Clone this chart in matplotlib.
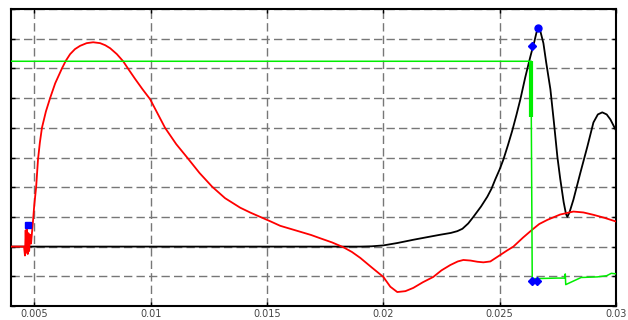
import numpy as np
import matplotlib
matplotlib.use("Agg")
import matplotlib.pyplot as plt

# black trace (flat at zero, then the two peaks on the right)
black_x = [0.0040, 0.01901, 0.01950, 0.02000, 0.02060, 0.02129, 0.02190, 0.02245,
           0.02290, 0.02318, 0.02340, 0.02365, 0.02387, 0.02420, 0.02447, 0.02465,
           0.02481, 0.02500, 0.02516, 0.02535, 0.02554, 0.02572, 0.02589, 0.02610,
           0.02632, 0.02649, 0.02658, 0.02666, 0.02675, 0.02688, 0.02700, 0.02718,
           0.02733, 0.02748, 0.02760, 0.02775, 0.02785, 0.02791, 0.02800, 0.02817,
           0.02847, 0.02877, 0.02903, 0.02922, 0.02941, 0.02960, 0.02976, 0.03002]
black_y = [0.0, 0.0, 0.01, 0.04, 0.12, 0.23, 0.32, 0.40,
           0.46, 0.52, 0.60, 0.78, 1.00, 1.35, 1.68, 1.95,
           2.26, 2.60, 2.93, 3.40, 3.90, 4.43, 4.96, 5.70,
           6.40, 6.90, 7.20, 7.36, 7.25, 6.85, 6.20, 5.30,
           4.20, 3.03, 2.30, 1.50, 1.10, 1.00, 1.15, 1.58,
           2.49, 3.37, 4.18, 4.45, 4.52, 4.45, 4.28, 3.88]

# red trace
red_x = [0.0040, 0.00456, 0.00460, 0.00463, 0.00466, 0.00469, 0.00472, 0.00475,
         0.00478, 0.00482, 0.00486, 0.00495, 0.00500, 0.00508, 0.00516, 0.00524,
         0.00533, 0.00550, 0.00568, 0.00590, 0.00619, 0.00635, 0.00654, 0.00675,
         0.00697, 0.00725, 0.00753, 0.00783, 0.00805, 0.00826, 0.00855, 0.00882,
         0.00905, 0.00933, 0.00965, 0.00998, 0.01030, 0.01062, 0.01110, 0.01157,
         0.01210, 0.01264, 0.01320, 0.01385, 0.01430, 0.01471, 0.01515, 0.01557,
         0.01600, 0.01643, 0.01690, 0.01729, 0.01780, 0.01828, 0.01865, 0.01901,
         0.01950, 0.02000, 0.02030, 0.02060, 0.02095, 0.02129, 0.02170, 0.02215,
         0.02250, 0.02288, 0.02320, 0.02344, 0.02375, 0.02404, 0.02430, 0.02460,
         0.02503, 0.02530, 0.02559, 0.02600, 0.02640, 0.02670, 0.02705, 0.02760,
         0.02817, 0.02860, 0.02903, 0.02950, 0.03002]
red_y = [0.0, 0.0, -0.30, 0.55, -0.20, 0.60, -0.25, 0.45,
         -0.15, 0.40, 0.10, 0.90, 1.40, 2.00, 2.93, 3.50,
         4.00, 4.55, 5.00, 5.50, 6.00, 6.25, 6.48, 6.65,
         6.76, 6.85, 6.88, 6.85, 6.78, 6.68, 6.48, 6.24,
         5.97, 5.65, 5.30, 4.96, 4.48, 4.00, 3.45, 3.00,
         2.48, 2.02, 1.63, 1.31, 1.14, 1.00, 0.85, 0.70,
         0.60, 0.50, 0.39, 0.28, 0.14, -0.02, -0.18, -0.38,
         -0.70, -1.02, -1.35, -1.53, -1.50, -1.39, -1.20, -1.02,
         -0.80, -0.62, -0.50, -0.45, -0.47, -0.51, -0.53, -0.50,
         -0.28, -0.14, 0.00, 0.30, 0.57, 0.76, 0.90, 1.08,
         1.18, 1.15, 1.07, 0.97, 0.84]

# green trace (step down near 0.0264)
green_x = [0.0040, 0.02636, 0.02636, 0.02640, 0.0275, 0.02780, 0.02782, 0.02784,
           0.0285, 0.0292, 0.0296, 0.0298, 0.03002]
green_y = [6.24, 6.24, 4.35, -1.08, -1.06, -1.06, -0.92, -1.28,
           -1.04, -1.02, -0.98, -0.90, -0.92]

# noisy band on the green step
band_x = [0.02636, 0.02636]
band_y = [6.24, 4.35]

# blue markers
sq_x, sq_y = [0.00474], [0.74]
dia_x, dia_y = [0.02640, 0.02640, 0.02662], [6.75, -1.16, -1.16]
circ_x, circ_y = [0.02666], [7.36]

xticks = [0.005, 0.01, 0.015, 0.02, 0.025, 0.03]
xlabels = ["0.005", "0.01", "0.015", "0.02", "0.025", "0.03"]

fig = plt.figure(figsize=(6.28, 3.2), dpi=100)
ax = fig.add_axes([11 / 628, 14 / 320, 605 / 628, 297 / 320])

ax.plot(black_x, black_y, color="black", lw=1.3, zorder=3)
ax.plot(red_x, red_y, color="#ff0000", lw=1.3, zorder=4)
ax.plot(green_x, green_y, color="#00ee00", lw=1.1, zorder=5)
ax.plot(band_x, band_y, color="#00ee00", lw=3, solid_capstyle="butt", zorder=5)
ax.plot(sq_x, sq_y, "s", color="#0000ff", ms=5, zorder=6)
ax.plot(dia_x, dia_y, "D", color="#0000ff", ms=4, zorder=6)
ax.plot(circ_x, circ_y, "o", color="#0000ff", ms=5, zorder=6)

ax.set_xlim(0.004, 0.03)
ax.set_ylim(-2, 8)
ax.set_xticks(xticks)
ax.set_xticklabels(xlabels)
ax.set_yticks(np.arange(-2, 9, 1))
ax.set_yticklabels([])

ax.grid(True, color="#777777", lw=1.0, linestyle=(0, (6, 3)), zorder=1)
ax.set_axisbelow(True)
ax.tick_params(direction="in", length=3, width=1, top=True, right=True,
               labelsize=7, labelcolor="#444444", pad=2)
for s in ax.spines.values():
    s.set_linewidth(1.5)

fig.savefig("out.png", dpi=100)
